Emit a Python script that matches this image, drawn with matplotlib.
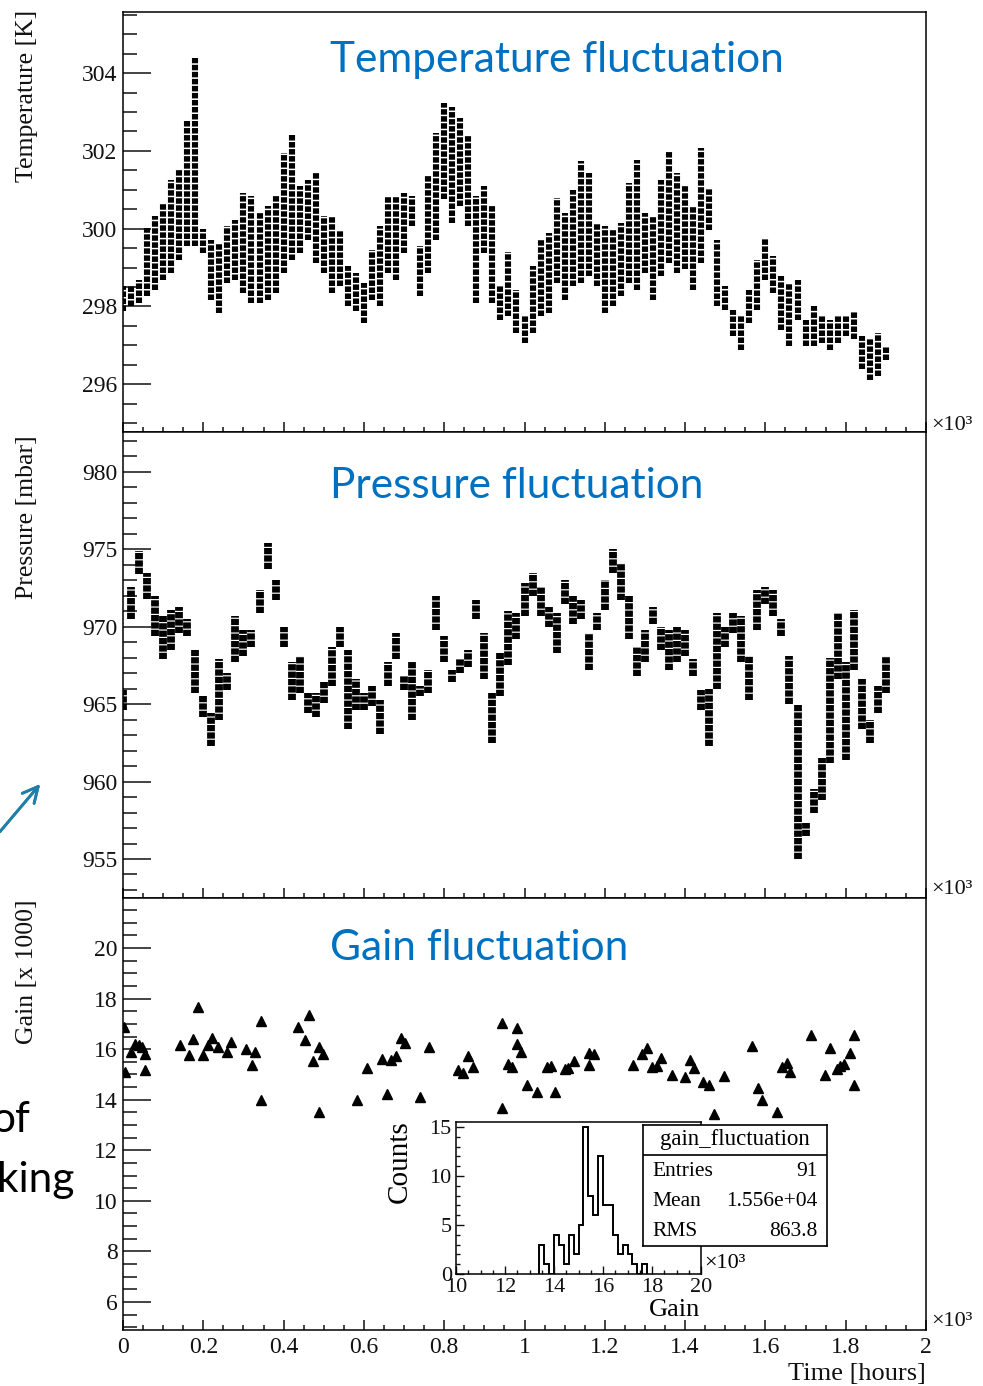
import numpy as np
import matplotlib
matplotlib.use('Agg')
import matplotlib.pyplot as plt
from matplotlib.ticker import MultipleLocator, FuncFormatter

plt.rcParams['font.family'] = ['Liberation Serif', 'DejaVu Sans']

# time in units of 10^3 hours, one reading column every 0.02
T_STEP = 0.02

temp_hi = [298.52, 298.56, 298.69, 300.02, 300.32, 300.66, 301.26, 301.52, 302.76, 304.39,
           300.00, 299.72, 299.63, 300.06, 300.23, 300.92, 300.83, 300.40, 300.57, 300.83,
           301.95, 302.42, 301.09, 301.26, 301.43, 300.32, 300.32, 299.97, 299.03, 298.86,
           298.60, 299.46, 300.06, 300.83, 300.83, 300.92, 300.83, 299.55, 301.35, 302.46,
           303.23, 303.14, 302.84, 302.37, 300.83, 301.09, 300.57, 298.52, 299.40, 298.43,
           297.75, 299.03, 299.72, 299.89, 300.79, 300.40, 301.00, 301.73, 301.43, 300.15,
           300.06, 299.97, 300.15, 301.17, 301.77, 300.40, 300.32, 301.26, 301.99, 301.43,
           301.13, 300.57, 302.07, 301.05, 299.72, 298.52, 297.92, 297.75, 298.43, 299.20,
           299.76, 299.29, 298.77, 298.60, 298.69, 297.66, 298.00, 297.75, 297.66, 297.75,
           297.75, 297.87, 297.23, 297.15, 297.32, 296.98]
temp_lo = [297.87, 298.00, 298.09, 298.26, 298.43, 298.69, 298.86, 299.20, 299.55, 299.55,
           299.37, 298.17, 297.83, 298.60, 298.69, 298.35, 298.09, 298.09, 298.17, 298.35,
           298.86, 299.20, 299.37, 299.72, 299.12, 298.86, 298.35, 298.52, 298.00, 297.87,
           297.57, 298.17, 298.00, 298.86, 298.69, 299.37, 300.06, 298.26, 298.86, 299.72,
           300.75, 300.15, 300.57, 300.06, 298.09, 299.37, 298.09, 297.66, 297.75, 297.32,
           297.06, 297.32, 297.75, 297.83, 298.60, 298.17, 298.52, 298.60, 298.77, 298.52,
           297.83, 298.00, 298.26, 298.60, 298.43, 298.86, 298.17, 298.77, 299.12, 298.86,
           298.95, 298.43, 299.12, 299.97, 298.00, 297.92, 297.23, 296.89, 297.58, 297.92,
           298.69, 298.35, 297.40, 296.98, 297.66, 296.98, 296.98, 297.06, 296.89, 297.06,
           297.23, 297.15, 296.38, 296.12, 296.20, 296.63]

pres_hi = [965.9, 972.6, 974.9, 973.5, 972.0, 970.7, 971.1, 971.3, 970.5, 968.5,
           965.5, 964.4, 967.9, 967.0, 970.7, 969.8, 969.8, 972.4, 975.4, 973.0,
           970.0, 967.7, 968.1, 965.7, 965.7, 966.4, 968.7, 970.0, 968.5, 966.6,
           965.7, 966.2, 965.3, 967.7, 969.6, 966.8, 967.7, 966.2, 967.2, 972.0,
           969.4, 967.2, 967.9, 968.5, 971.7, 969.6, 965.7, 968.3, 971.0, 970.9,
           972.8, 973.5, 972.6, 971.3, 970.9, 973.0, 972.0, 971.7, 969.6, 970.9,
           973.0, 975.0, 974.1, 972.0, 968.7, 969.8, 971.3, 970.0, 969.8, 970.0,
           969.8, 967.9, 965.9, 966.0, 970.9, 970.0, 970.9, 970.7, 968.1, 972.4,
           972.6, 972.4, 970.5, 968.1, 965.0, 957.3, 959.5, 961.5, 968.0, 970.9,
           967.7, 971.1, 966.6, 964.0, 966.2, 968.1]
pres_lo = [964.6, 970.5, 973.4, 971.8, 969.4, 967.9, 968.5, 969.6, 969.4, 965.7,
           964.2, 962.3, 964.0, 965.9, 967.7, 968.1, 968.7, 970.9, 973.7, 971.7,
           968.7, 965.3, 965.7, 964.4, 964.2, 965.1, 966.2, 968.7, 963.4, 964.6,
           964.6, 964.9, 963.1, 966.2, 967.9, 965.9, 964.0, 965.5, 965.7, 969.8,
           967.7, 966.4, 967.0, 967.4, 970.5, 966.6, 962.5, 965.5, 967.5, 969.2,
           970.7, 972.0, 970.7, 970.0, 968.3, 971.5, 970.2, 970.5, 967.2, 969.8,
           971.1, 973.5, 971.7, 969.2, 966.8, 967.7, 970.2, 968.5, 967.2, 967.7,
           968.1, 966.8, 964.6, 962.3, 966.0, 968.7, 969.6, 967.7, 965.3, 969.8,
           971.5, 970.7, 969.4, 965.0, 955.0, 956.5, 958.0, 958.8, 961.2, 966.6,
           961.4, 967.2, 963.4, 962.5, 964.4, 965.7]

gain_t = [0.003, 0.005, 0.020, 0.030, 0.040, 0.047, 0.055, 0.055, 0.142, 0.164,
          0.175, 0.186, 0.200, 0.212, 0.222, 0.236, 0.258, 0.269, 0.306, 0.330,
          0.322, 0.344, 0.344, 0.435, 0.463, 0.453, 0.488, 0.474, 0.499, 0.488,
          0.584, 0.607, 0.644, 0.657, 0.667, 0.679, 0.692, 0.702, 0.740, 0.763,
          0.835, 0.848, 0.860, 0.872, 0.943, 0.943, 0.958, 0.968, 0.981, 0.981,
          0.991, 1.005, 1.030, 1.076, 1.055, 1.066, 1.101, 1.109, 1.124, 1.161,
          1.174, 1.161, 1.269, 1.292, 1.305, 1.318, 1.329, 1.340, 1.367, 1.400,
          1.412, 1.423, 1.445, 1.460, 1.473, 1.498, 1.566, 1.582, 1.592, 1.628,
          1.642, 1.653, 1.661, 1.714, 1.748, 1.761, 1.778, 1.786, 1.796, 1.810,
          1.821, 1.821]
gain_v = [16.88, 15.10, 15.89, 16.22, 16.16, 16.09, 15.80, 15.17, 16.16, 15.76,
          16.42, 17.67, 15.76, 16.16, 16.46, 16.09, 15.87, 16.29, 16.00, 15.87,
          15.37, 17.11, 13.98, 16.88, 17.34, 16.36, 16.09, 15.54, 15.79, 13.50,
          13.98, 15.24, 15.63, 14.22, 15.59, 15.72, 16.45, 16.25, 14.09, 16.09,
          15.17, 15.04, 15.72, 15.28, 17.02, 13.66, 15.43, 15.30, 16.84, 16.22,
          15.87, 14.58, 14.31, 14.31, 15.30, 15.34, 15.21, 15.24, 15.53, 15.83,
          15.79, 15.37, 15.39, 15.79, 16.05, 15.30, 15.33, 15.67, 14.97, 14.91,
          15.59, 15.24, 14.71, 14.58, 13.42, 14.93, 16.13, 14.47, 13.98, 13.50,
          15.30, 15.46, 15.08, 16.55, 14.97, 16.03, 15.21, 15.33, 15.43, 15.85,
          16.58, 14.58]

# gain histogram, 0.2 wide bins starting at 13.4 (x 10^3)
hist_start = 13.4
hist_width = 0.2
hist_counts = [3, 1, 0, 4, 3, 1, 4, 2, 5, 15, 8, 6, 12, 7, 7, 4, 2, 3, 2, 1, 0, 1]
stat_mean = '1.556e+04'
stat_rms = '863.8'

titles = ['Temperature fluctuation', 'Pressure fluctuation', 'Gain fluctuation']
ylabels = ['Temperature [K]', 'Pressure [mbar]', 'Gain [x 1000]']

W, H = 983, 1386
BLUE = '#0070C0'
SLIDE_FONT = ['Lato', 'DejaVu Sans']


def fx(x):
    return x / W


def fy(y):
    return 1 - y / H


def root_axes(rect):
    ax = fig.add_axes(rect)
    ax.set_xlim(0, 2)
    ax.xaxis.set_major_locator(MultipleLocator(0.2))
    ax.xaxis.set_minor_locator(MultipleLocator(0.05))
    ax.tick_params(which='both', direction='in', top=False, right=False,
                   labelsize=17, width=1.1, colors='#111111')
    ax.tick_params(axis='y', which='major', length=20, pad=4)
    ax.tick_params(axis='y', which='minor', length=10)
    ax.tick_params(axis='x', which='major', length=7, pad=5)
    ax.tick_params(axis='x', which='minor', length=3.6)
    for s in ax.spines.values():
        s.set_linewidth(1.1)
    ax.yaxis.set_major_formatter(FuncFormatter(lambda v, p: f'{v:g}'))
    ax.xaxis.set_major_formatter(FuncFormatter(lambda v, p: f'{v:g}'))
    return ax


fig = plt.figure(figsize=(W / 100, H / 100), dpi=100)

left, width = fx(123), fx(926) - fx(123)
ax_t = root_axes([left, fy(432), width, (432 - 12) / H])
ax_p = root_axes([left, fy(898), width, (898 - 432) / H])
ax_g = root_axes([left, fy(1330), width, (1330 - 898) / H])

times = np.arange(len(temp_hi)) * T_STEP

# temperature: dense readings drawn as dashed columns
ax_t.vlines(times, temp_lo, temp_hi, colors='black', linewidth=4.4,
            linestyles=(0, (0.9, 0.25)))
ax_t.set_ylim(294.77, 305.57)
ax_t.yaxis.set_major_locator(MultipleLocator(2))
ax_t.yaxis.set_minor_locator(MultipleLocator(0.5))
ax_t.tick_params(axis='x', labelbottom=False)

# pressure
ax_p.vlines(times, pres_lo, pres_hi, colors='black', linewidth=5.6,
            linestyles=(0, (0.8, 0.15)))
ax_p.set_ylim(952.48, 982.58)
ax_p.yaxis.set_major_locator(MultipleLocator(5))
ax_p.yaxis.set_minor_locator(MultipleLocator(1))
ax_p.tick_params(axis='x', labelbottom=False)

# gain
ax_g.plot(gain_t, gain_v, linestyle='none', marker='^', color='black', markersize=7.5)
ax_g.set_ylim(4.89, 21.98)
ax_g.yaxis.set_major_locator(MultipleLocator(2))
ax_g.yaxis.set_minor_locator(MultipleLocator(0.5))

for y in (425, 890, 1322):
    fig.text(fx(931), fy(y), '×10³', fontsize=16, ha='left', va='center', color='#111111')

fig.text(fx(926), fy(1374), 'Time [hours]', fontsize=19, ha='right', va='center', color='#111111')

for top, lab in zip((10, 435, 900), ylabels):
    fig.text(fx(27), fy(top), lab, fontsize=18.5, rotation=90, ha='center', va='top',
             color='#111111')

for (x, y), txt in zip(((330, 60), (330, 486), (330, 948)), titles):
    fig.text(fx(x), fy(y), txt, fontsize=30.5, ha='left', va='center', color=BLUE,
             family=SLIDE_FONT)

# inset histogram of the gain values
ax_h = fig.add_axes([fx(456), fy(1274), fx(701) - fx(456), (1274 - 1122) / H])
edges = hist_start + hist_width * np.arange(len(hist_counts) + 1)
ax_h.stairs(hist_counts, edges, color='black', linewidth=1.4)
ax_h.set_xlim(10, 20)
ax_h.set_ylim(0, 15.5)
ax_h.xaxis.set_major_locator(MultipleLocator(2))
ax_h.xaxis.set_minor_locator(MultipleLocator(0.5))
ax_h.yaxis.set_major_locator(MultipleLocator(5))
ax_h.yaxis.set_minor_locator(MultipleLocator(1))
ax_h.tick_params(which='both', direction='in', top=False, right=False,
                 labelsize=16, width=1.0, colors='#111111', pad=3)
ax_h.tick_params(which='major', length=6)
ax_h.tick_params(which='minor', length=3)
for s in ax_h.spines.values():
    s.set_linewidth(1.1)
fig.text(fx(400), fy(1162), 'Counts', fontsize=21, rotation=90, ha='center', va='center')
fig.text(fx(700), fy(1310), 'Gain', fontsize=19, ha='right', va='center')
fig.text(fx(704), fy(1264), '×10³', fontsize=16, ha='left', va='center')

# stats box
box = fig.add_axes([fx(643), fy(1246), fx(827) - fx(643), (1246 - 1125) / H])
box.set_xticks([])
box.set_yticks([])
box.set_xlim(0, 1)
box.set_ylim(0, 1)
for s in box.spines.values():
    s.set_linewidth(1.2)
box.axhline(1 - (1155 - 1125) / 121, color='black', linewidth=1.2)
box.text(0.5, 1 - (1140 - 1125) / 121, 'gain_fluctuation', ha='center', va='center', fontsize=16.5)
rows = [('Entries', str(sum(hist_counts))), ('Mean', stat_mean), ('RMS', stat_rms)]
for (name, val), yy in zip(rows, (1172, 1201, 1231)):
    yr = 1 - (yy - 1125) / 121
    box.text(0.05, yr, name, ha='left', va='center', fontsize=15.5)
    box.text(0.95, yr, val, ha='right', va='center', fontsize=15.5)

# slide text cut off at the left margin
fig.text(fx(30), fy(1120), 'of', fontsize=30.5, ha='right', va='center', family=SLIDE_FONT)
fig.text(fx(74), fy(1180), 'king', fontsize=30.5, ha='right', va='center', family=SLIDE_FONT)
fig.add_artist(plt.annotate('', xy=(fx(42), fy(782)), xytext=(fx(-2), fy(834)),
                            xycoords='figure fraction', textcoords='figure fraction',
                            arrowprops=dict(arrowstyle='->', color='#1e7fa8', lw=2,
                                            mutation_scale=28)))

fig.savefig('out.png', dpi=100)
